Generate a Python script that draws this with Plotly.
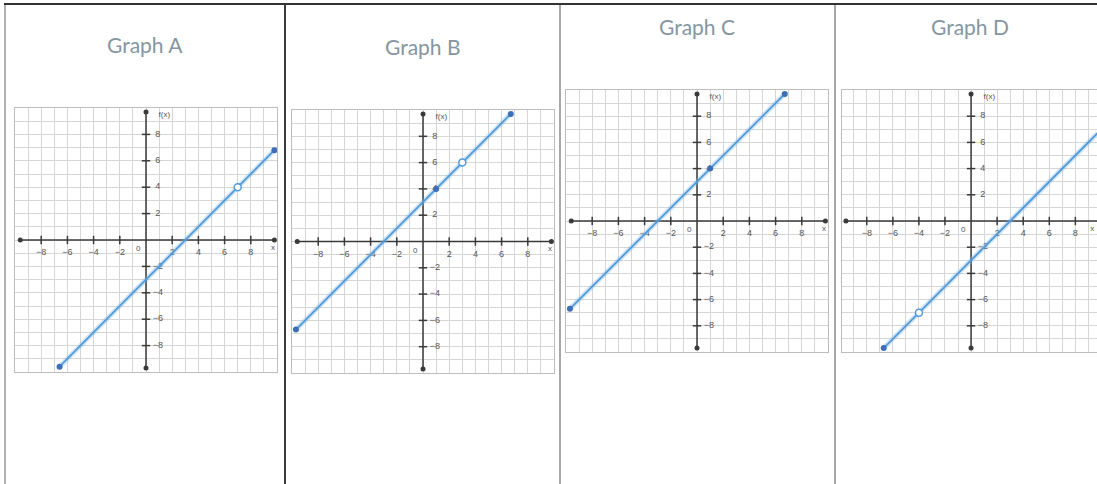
import plotly.graph_objects as go

# ---- datos ----
titulos = ["Graph A", "Graph B", "Graph C", "Graph D"]

# extremos de cada recta (x, y)
recta_x = [[-6.6, 9.8], [-9.7, 6.7], [-9.7, 6.7], [-6.7, 9.7]]
recta_y = [[-9.6, 6.8], [-6.7, 9.7], [-6.7, 9.7], [-9.7, 6.7]]

# puntos rellenos sobre la recta (extremos con punto + puntos marcados)
relleno_x = [[-6.6, 9.8], [-9.7, 1, 6.7], [-9.7, 1, 6.7], [-6.7]]
relleno_y = [[-9.6, 6.8], [-6.7, 4, 9.7], [-6.7, 4, 9.7], [-9.7]]

# puntos abiertos
abierto_x = [[7], [3], [], [-4]]
abierto_y = [[4], [6], [], [-7]]

marcas = [-8, -6, -4, -2, 2, 4, 6, 8]
etiquetas = ["\u22128", "\u22126", "\u22124", "\u22122", "2", "4", "6", "8"]

# ---- posiciones de cada cuadricula en pixeles (izq, arriba, der, abajo) ----
W, H = 1097, 484
cajas = [(15, 108, 277, 372), (292, 110, 554, 373), (566, 90, 828, 352), (842, 90, 1097, 352)]
rangos_x = [[-10, 10], [-10, 10], [-10, 10], [-9.9, 9.66]]
centros_titulo = [(145, 45), (423, 47), (697, 27), (970, 27)]
pos_x_label = [9.7, 9.7, 9.7, 9.3]

AZUL = "#529ad8"
EJE = "#3a3a3a"

fig = go.Figure()

for i in range(4):
    n = "" if i == 0 else str(i + 1)
    xa, ya = "x" + n, "y" + n
    izq, arr, der, aba = cajas[i]

    fig.layout["xaxis" + n] = dict(
        domain=[izq / W, der / W], range=rangos_x[i], anchor=ya,
        dtick=1, tick0=0, showgrid=True, gridcolor="#d6d6d6", gridwidth=1,
        zeroline=False, showticklabels=False, ticks="",
        showline=True, mirror=True, linecolor="#bdbdbd", linewidth=1, fixedrange=True)
    fig.layout["yaxis" + n] = dict(
        domain=[1 - aba / H, 1 - arr / H], range=[-10, 10], anchor=xa,
        dtick=1, tick0=0, showgrid=True, gridcolor="#d6d6d6", gridwidth=1,
        zeroline=False, showticklabels=False, ticks="",
        showline=True, mirror=True, linecolor="#bdbdbd", linewidth=1, fixedrange=True)

    # ejes con puntos en los extremos
    fig.add_trace(go.Scatter(x=[-9.6, 9.8], y=[0, 0], mode="lines+markers", xaxis=xa, yaxis=ya,
                             line=dict(color=EJE, width=1.5), marker=dict(color=EJE, size=5),
                             hoverinfo="skip", showlegend=False))
    fig.add_trace(go.Scatter(x=[0, 0], y=[-9.7, 9.7], mode="lines+markers", xaxis=xa, yaxis=ya,
                             line=dict(color=EJE, width=1.5), marker=dict(color=EJE, size=5),
                             hoverinfo="skip", showlegend=False))
    # marcas de los ejes
    fig.add_trace(go.Scatter(x=marcas, y=[0] * len(marcas), mode="markers", xaxis=xa, yaxis=ya,
                             marker=dict(symbol="line-ns", size=6, line=dict(color=EJE, width=1.5)),
                             hoverinfo="skip", showlegend=False))
    fig.add_trace(go.Scatter(x=[0] * len(marcas), y=marcas, mode="markers", xaxis=xa, yaxis=ya,
                             marker=dict(symbol="line-ew", size=6, line=dict(color=EJE, width=1.5)),
                             hoverinfo="skip", showlegend=False))
    # etiquetas de las marcas
    fig.add_trace(go.Scatter(x=marcas, y=[-1.0] * len(marcas), mode="text", text=etiquetas,
                             xaxis=xa, yaxis=ya, textfont=dict(size=9, color="#555", family="Arial"),
                             cliponaxis=False, hoverinfo="skip", showlegend=False))
    fig.add_trace(go.Scatter(x=[0.9] * len(marcas), y=marcas, mode="text", text=etiquetas,
                             xaxis=xa, yaxis=ya, textfont=dict(size=9, color="#555", family="Arial"),
                             cliponaxis=False, hoverinfo="skip", showlegend=False))
    fig.add_trace(go.Scatter(x=[-0.6, pos_x_label[i], 1.4], y=[-0.7, -0.6, 9.5], mode="text",
                             text=["0", "x", "f(x)"], xaxis=xa, yaxis=ya,
                             textfont=dict(size=8, color="#555", family="Arial"),
                             cliponaxis=False, hoverinfo="skip", showlegend=False))

    # recta (halo claro + linea)
    fig.add_trace(go.Scatter(x=recta_x[i], y=recta_y[i], mode="lines", xaxis=xa, yaxis=ya,
                             line=dict(color="rgba(120,180,235,0.35)", width=5),
                             hoverinfo="skip", showlegend=False))
    fig.add_trace(go.Scatter(x=recta_x[i], y=recta_y[i], mode="lines", xaxis=xa, yaxis=ya,
                             line=dict(color=AZUL, width=1.8), hoverinfo="skip", showlegend=False))
    fig.add_trace(go.Scatter(x=relleno_x[i], y=relleno_y[i], mode="markers", xaxis=xa, yaxis=ya,
                             marker=dict(color="#3d6fb8", size=6), hoverinfo="skip", showlegend=False))
    if abierto_x[i]:
        fig.add_trace(go.Scatter(x=abierto_x[i], y=abierto_y[i], mode="markers", xaxis=xa, yaxis=ya,
                                 marker=dict(color="white", size=7, line=dict(color=AZUL, width=1.5)),
                                 hoverinfo="skip", showlegend=False))

    # titulo del panel
    cx, cy = centros_titulo[i]
    fig.add_annotation(x=cx / W, y=1 - cy / H, xref="paper", yref="paper", text=titulos[i],
                       showarrow=False, font=dict(size=21, color="#8596a0", family="Lato"),
                       xanchor="center", yanchor="middle")

# separadores del cuadro
separadores = [(5, "#9a9a9a", 1.5), (285, "#3c3c3c", 2), (560, "#8a8a8a", 1.5), (835, "#8a8a8a", 1.5)]
for sx, col, ancho in separadores:
    fig.add_shape(type="line", xref="paper", yref="paper", x0=sx / W, x1=sx / W, y0=0, y1=1 - 4 / H,
                  line=dict(color=col, width=ancho))
fig.add_shape(type="line", xref="paper", yref="paper", x0=4 / W, x1=1, y0=1 - 4 / H, y1=1 - 4 / H,
              line=dict(color="#333333", width=2))

fig.update_layout(width=W, height=H, margin=dict(l=0, r=0, t=0, b=0),
                  paper_bgcolor="white", plot_bgcolor="white", showlegend=False)

# quitar el margen por defecto del body para que la figura empiece en (0, 0)
fig.write_html("out.html", config={"displayModeBar": False},
               post_script="document.body.style.margin='0';")
